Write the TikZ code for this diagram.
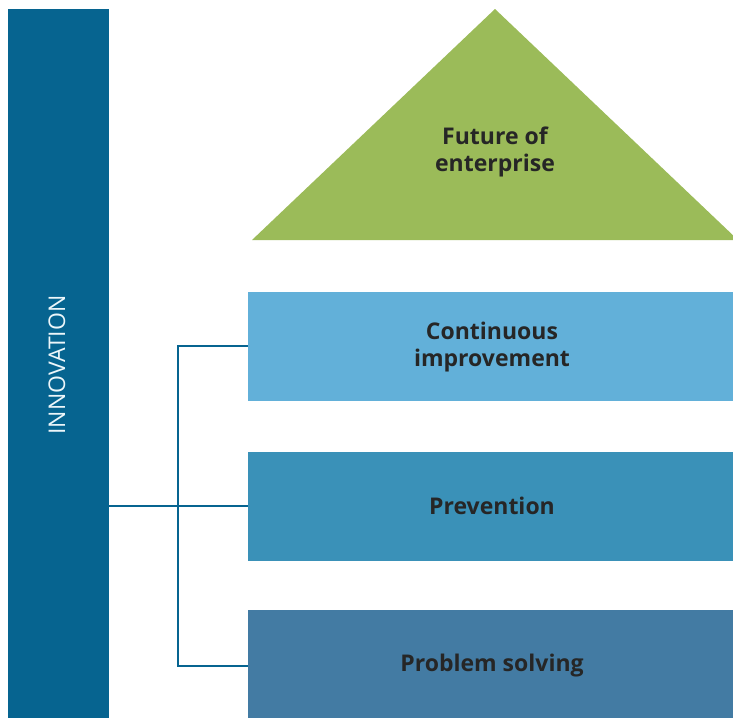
\documentclass[tikz,border=0pt]{standalone}
\usepackage{fontspec}
\setmainfont{Open Sans}
\begin{document}
\begin{tikzpicture}[x=1pt,y=-1pt,
  lbl/.style={font=\bfseries\fontsize{23}{27}\selectfont, text=black!85, align=center},
  conn/.style={draw=barblue, line width=2.2pt}]
\definecolor{barblue}{HTML}{066490}
\definecolor{trigreen}{HTML}{9BBB59}
\definecolor{boxa}{HTML}{62B0D9}
\definecolor{boxb}{HTML}{3A91B8}
\definecolor{boxc}{HTML}{437BA3}
\useasboundingbox (0,0) rectangle (733,718);
\begin{scope}
\clip (0,0) rectangle (733,718);
% innovation bar
\fill[barblue] (8,9) rectangle (109,718);
\node[rotate=90, text=white!88!boxa, font=\fontsize{23}{26}\selectfont] (innov) at (57,365) {INNOVATION};
\coordinate (barR) at (109,506);
% triangle
\fill[trigreen] (252,240) -- (495,9) -- (738,240) -- cycle;
\node[lbl] (future) at (495,152) {Future of\\enterprise};
% boxes
\fill[boxa] (248,292) rectangle (733,401);
\fill[boxb] (248,452) rectangle (733,561);
\fill[boxc] (248,610) rectangle (733,718);
\node[lbl] (ci) at (492,347) {Continuous\\improvement};
\node[lbl] (prev) at (492,506) {Prevention};
\node[lbl] (ps) at (492,666) {Problem solving};
\coordinate (b1) at (248,346);
\coordinate (b2) at (248,506);
\coordinate (b3) at (248,666);
\coordinate (v1) at (178,346);
\coordinate (v3) at (178,666);
\draw[conn] (barR) -- (b2);
\draw[conn] (b1) -- (v1) -- (v3) -- (b3);
\end{scope}
\end{tikzpicture}
\end{document}
